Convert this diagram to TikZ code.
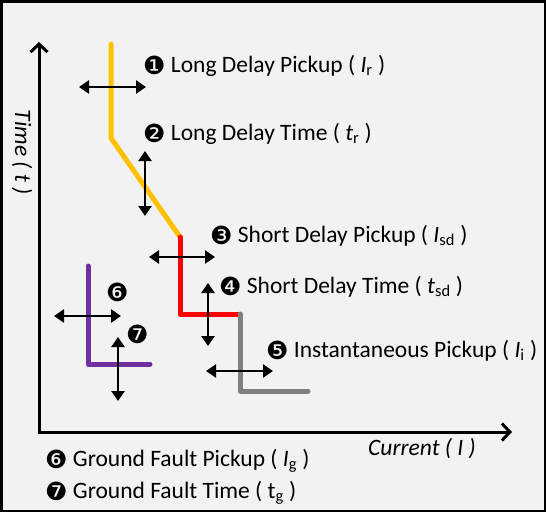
\documentclass[tikz,border=0pt]{standalone}
\usepackage{fontspec}
\setmainfont{Carlito}
\newfontfamily\dingfont{DejaVu Sans}
\usetikzlibrary{arrows.meta}
\definecolor{bgc}{HTML}{F2F2F2}
\definecolor{ylw}{HTML}{FFC000}
\definecolor{rd}{HTML}{FF0000}
\definecolor{gry}{HTML}{808080}
\definecolor{prp}{HTML}{7030A0}
\newcommand\cnum[1]{\raisebox{-2pt}{\dingfont\fontsize{25}{25}\selectfont #1}}
\newcommand\sbs[1]{\textsubscript{#1}}
\begin{document}
\begin{tikzpicture}[x=1pt,y=-1pt,
  curve/.style={line width=5pt,line cap=round,line join=round},
  dbl/.style={line width=2.8pt,{Triangle[length=10pt,width=13pt]}-{Triangle[length=10pt,width=13pt]}},
  axis/.style={line width=3pt,-{Straight Barb[length=8pt,width=17pt,line width=3pt]}},
  lbl/.style={anchor=base west,inner sep=0pt,font=\fontsize{23.5}{28}\selectfont}]
\fill[bgc] (0,0) rectangle (546,512);
\draw[line width=2.5pt] (1.25,1.25) rectangle (544.75,510.75);
\useasboundingbox (0,0) rectangle (546,512);
% axes
\coordinate (O) at (39,432);
\coordinate (ytop) at (39,42);
\coordinate (xend) at (512,432);
\draw[axis] (39,433.5) -- (ytop);
\draw[axis] (37.5,432) -- (xend);
\node[rotate=-90,inner sep=0pt,font=\fontsize{23.5}{28}\selectfont\itshape] (ylab) at (22,152) {Time ( t )};
\node[lbl,font=\fontsize{23.5}{28}\selectfont\itshape] (xlab) at (368,455) {Current ( I )};
% curves
\draw[curve,ylw] (111,44) -- (111,138) -- (180,237);
\draw[curve,rd] (180,237) -- (180,314) -- (240,314);
\draw[curve,gry] (240,314) -- (240,391) -- (308,391);
\draw[curve,prp] (88,266) -- (88,364) -- (150,364);
% double arrows
\coordinate (a1l) at (79,87); \coordinate (a1r) at (146,87);
\coordinate (a2t) at (145,151); \coordinate (a2b) at (145,216);
\coordinate (a3l) at (149,257); \coordinate (a3r) at (215,257);
\coordinate (a4t) at (208,283); \coordinate (a4b) at (208,346);
\coordinate (a5l) at (206,371); \coordinate (a5r) at (273,371);
\coordinate (a6l) at (54,316); \coordinate (a6r) at (121,316);
\coordinate (a7t) at (118,337); \coordinate (a7b) at (118,401);
\draw[dbl] (a1l) -- (a1r);
\draw[dbl] (a2t) -- (a2b);
\draw[dbl] (a3l) -- (a3r);
\draw[dbl] (a4t) -- (a4b);
\draw[dbl] (a5l) -- (a5r);
\draw[dbl] (a6l) -- (a6r);
\draw[dbl] (a7t) -- (a7b);
% labels
\node[lbl] (l1) at (143,72) {\cnum{❶} Long Delay Pickup ( {\itshape I}\sbs{r} )};
\node[lbl] (l2) at (143,140) {\cnum{❷} Long Delay Time ( {\itshape t}\sbs{r} )};
\node[lbl] (l3) at (210,242) {\cnum{❸} Short Delay Pickup ( {\itshape I}\sbs{sd} )};
\node[lbl] (l4) at (219,293) {\cnum{❹} Short Delay Time ( {\itshape t}\sbs{sd} )};
\node[lbl] (l5) at (266,357) {\cnum{❺} Instantaneous Pickup ( {\itshape I}\sbs{i} )};
\node[lbl] (l6) at (106,299) {\cnum{❻}};
\node[lbl] (l7) at (126,341) {\cnum{❼}};
\node[lbl] (g6) at (45,466) {\cnum{❻} Ground Fault Pickup ( {\itshape I}\sbs{g} )};
\node[lbl] (g7) at (45,498) {\cnum{❼} Ground Fault Time ( t\sbs{g} )};
\end{tikzpicture}
\end{document}
